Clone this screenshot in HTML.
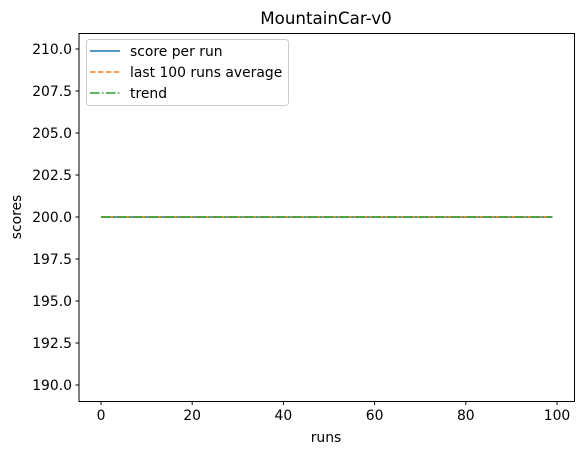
<!DOCTYPE html>
<html><head><meta charset="utf-8"><style>
html,body{margin:0;padding:0;background:#fff;}
svg text{font-family:"DejaVu Sans","Liberation Sans",sans-serif;fill:#000;}
</style></head><body>
<svg id="chart" width="584" height="455" xmlns="http://www.w3.org/2000/svg">
<text x="326" y="24" font-size="16.7" text-anchor="middle">MountainCar-v0</text>
<g id="series"></g>
<rect x="79" y="33.5" width="495.5" height="368" fill="none" stroke="#000" stroke-width="1"/>
<g id="xticks"></g>
<g id="yticks"></g>
<text x="326" y="442" font-size="13.9" text-anchor="middle">runs</text>
<text transform="translate(21,217) rotate(-90)" font-size="13.9" text-anchor="middle">scores</text>
<g>
<rect x="86.5" y="39.5" width="202" height="66" rx="3" fill="#fff" fill-opacity="0.8" stroke="#ccc"/>
<line x1="90" y1="51" x2="120" y2="51" stroke="#1f77b4" stroke-width="1.5"/>
<text x="130" y="56" font-size="13.9">score per run</text>
<line x1="90" y1="72" x2="120" y2="72" stroke="#ff7f0e" stroke-width="1.5" stroke-dasharray="5.5,2.4"/>
<text x="130" y="77" font-size="13.9">last 100 runs average</text>
<line x1="90" y1="93" x2="120" y2="93" stroke="#2ca02c" stroke-width="1.5" stroke-dasharray="9.6,2.4,1.5,2.4"/>
<text x="130" y="98" font-size="13.9">trend</text>
</g>
</svg>
<script>
const scores = Array(100).fill(200);
const averages = Array(100).fill(200);
const trend = Array(100).fill(200);
const xTicks = [0, 20, 40, 60, 80, 100];
const yTicks = [190.0, 192.5, 195.0, 197.5, 200.0, 202.5, 205.0, 207.5, 210.0];
const NS = "http://www.w3.org/2000/svg";
function xs(v){ return 101 + v * 4.56; }
function ys(v){ return 217 - (v - 200) * 16.8; }
function mk(tag, attrs, parent){ const e=document.createElementNS(NS,tag); for(const k in attrs) e.setAttribute(k,attrs[k]); parent.appendChild(e); return e; }
const xg=document.getElementById('xticks'), yg=document.getElementById('yticks'), sg=document.getElementById('series');
xTicks.forEach(t=>{
  const l=mk('line',{x1:xs(t),x2:xs(t),y1:401.5,y2:405,stroke:'#000'},xg);
  
  
  const tx=mk('text',{x:xs(t),y:420,'font-size':13.9,'text-anchor':'middle'},xg);
  tx.textContent=t;
  
  
});
yTicks.forEach(t=>{
  const l=mk('line',{x1:75.5,x2:79,y1:ys(t),y2:ys(t),stroke:'#000'},yg);
  
  
  const tx=mk('text',{x:72,y:ys(t)+5,'font-size':13.9,'text-anchor':'end'},yg);
  tx.textContent=t.toFixed(1);
  
  
});
function line(arr, color, dash, name){
  const p=mk('polyline',{points:arr.map((v,i)=>xs(i)+','+ys(v)).join(' '),fill:'none',stroke:color,'stroke-width':1.5},sg);
  if(dash) p.setAttribute('stroke-dasharray',dash);
  
  
}
line(scores,'#1f77b4',null,'score-line');
line(averages,'#ff7f0e','5.5,2.4','average-line');
line(trend,'#2ca02c','9.6,2.4,1.5,2.4','trend-line');
</script>
</body></html>
